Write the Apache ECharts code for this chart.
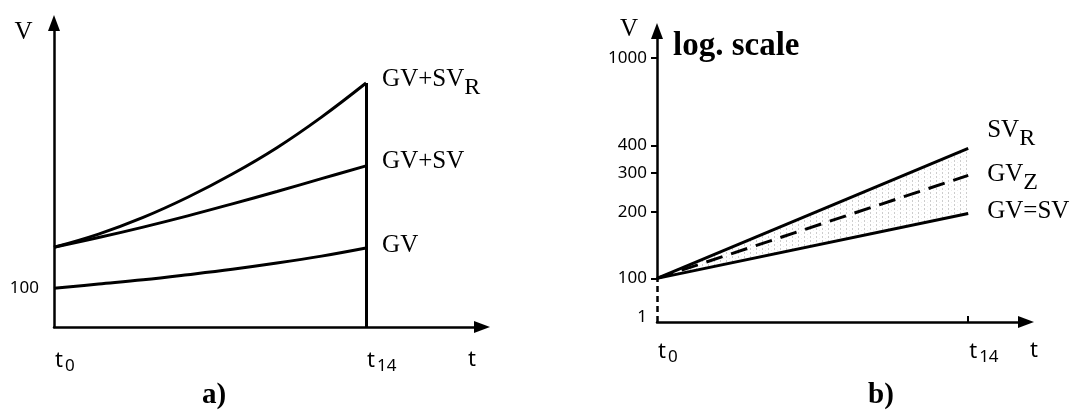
<!DOCTYPE html>
<html>
<head>
<meta charset="utf-8">
<script src="https://cdn.jsdelivr.net/npm/echarts@6/dist/echarts.min.js"></script>
<style>
  html, body { margin: 0; padding: 0; background: #fff; }
  #chart { width: 1085px; height: 410px; }
</style>
</head>
<body>
<div id="chart"></div>
<script>
// Panel a): values on a linear scale, sampled every two periods from t0 to t14
const periodsA = [0, 2, 4, 6, 8, 10, 12, 14];
const gv = [100, 111, 122, 135, 149, 165, 183, 204];
const gvPlusSv = [206, 231, 258, 287, 318, 350, 383, 416];
const gvPlusSvR = [206, 240, 283, 335, 395, 463, 542, 630];
const linearTicks = [100];

// Panel b): log scale, constant growth rates give straight lines
const periodsB = [0, 14];
const svR = [100, 388];
const gvZ = [100, 293];
const gvEqSv = [100, 197];
const logTicks = [100, 200, 300, 400, 1000];
const logBaseLabel = '1';

const timeTicks = [0, 14];

const SERIF = 'Liberation Serif';
const SANS = 'Noto Sans';
const INK = '#000';

const yMinB = 63.4;
const yMaxB = 1323;

const pairs = (xs, ys) => xs.map((x, i) => [x, ys[i]]);

// light vertical stipple for the band between SV_R and GV=SV
function makeStipple() {
  const c = document.createElement('canvas');
  c.width = 6; c.height = 4;
  const g = c.getContext('2d');
  g.fillStyle = 'rgba(130,130,130,0.40)';
  g.fillRect(0, 0, 1, 2);
  g.fillStyle = 'rgba(130,130,130,0.15)';
  g.fillRect(3, 2, 1, 1);
  return c;
}
const stipple = makeStipple();

const richCurve = {
  m: { fontFamily: SERIF, fontSize: 25, color: INK, verticalAlign: 'top', lineHeight: 26 },
  s: { fontFamily: SERIF, fontSize: 24, color: INK, verticalAlign: 'bottom', lineHeight: 33 }
};

const richTime = {
  t: { fontFamily: SANS, fontSize: 22, color: INK, verticalAlign: 'top', lineHeight: 22 },
  s: { fontFamily: SANS, fontSize: 17, color: INK, verticalAlign: 'bottom', lineHeight: 25, padding: [0, 0, 0, 2] }
};

const arrowLine = {
  show: true,
  symbol: ['none', 'triangle'],
  symbolSize: [12, 16],
  lineStyle: { color: INK, width: 2.5 }
};

function timeAxis(gridIndex, max, labelMargin, nameGap, namePad) {
  return {
    type: 'value', gridIndex, min: 0, max,
    axisLine: arrowLine,
    splitLine: { show: false },
    axisTick: gridIndex === 1
      ? { show: true, customValues: [14], inside: true, length: 6, lineStyle: { color: INK, width: 2 } }
      : { show: false },
    axisLabel: {
      customValues: timeTicks,
      formatter: v => '{t|t}{s|' + v + '}',
      rich: richTime,
      align: 'left',
      margin: labelMargin,
      padding: [0, 0, 0, 1]
    },
    name: 't',
    nameLocation: 'end',
    nameGap,
    nameTextStyle: {
      fontFamily: SANS, fontSize: 22, color: INK,
      align: 'center', verticalAlign: 'top', padding: [namePad, 0, 0, 0]
    }
  };
}

function curveLabel(text, sub, distance, dy) {
  return {
    show: true,
    formatter: sub ? '{m|' + text + '}{s|' + sub + '}' : '{m|' + text + '}',
    rich: richCurve,
    distance,
    offset: [0, dy]
  };
}

const blackLine = { color: INK, width: 3 };

const option = {
  backgroundColor: '#fff',
  animation: false,
  title: [
    { text: 'a)', left: 202, top: 381, padding: 0,
      textStyle: { fontFamily: SERIF, fontWeight: 'bold', fontSize: 29, color: INK } },
    { text: 'b)', left: 868, top: 381, padding: 0,
      textStyle: { fontFamily: SERIF, fontWeight: 'bold', fontSize: 29, color: INK } },
    { text: 'log. scale', left: 673, top: 30, padding: 0,
      textStyle: { fontFamily: SERIF, fontWeight: 'bold', fontSize: 33, color: INK } }
  ],
  grid: [
    { left: 54, top: 23, width: 428, height: 304 },
    { left: 657, top: 31, width: 369, height: 291 }
  ],
  xAxis: [
    timeAxis(0, 19.2, 23, -10, 22),
    timeAxis(1, 16.6, 19, 8, 18)
  ],
  yAxis: [
    {
      type: 'value', gridIndex: 0, min: 0, max: 785,
      axisLine: arrowLine,
      splitLine: { show: false },
      axisTick: { show: false },
      axisLabel: { customValues: linearTicks, margin: 15, fontFamily: SANS, fontSize: 17, color: INK },
      name: 'V', nameLocation: 'end', nameGap: -9,
      nameTextStyle: { fontFamily: SERIF, fontSize: 25, color: INK, align: 'center', verticalAlign: 'middle', padding: [0, 61, 0, 0] }
    },
    {
      type: 'log', logBase: 10, gridIndex: 1, min: yMinB, max: yMaxB,
      axisLine: { show: false },
      splitLine: { show: false },
      minorTick: { show: false },
      axisTick: { show: true, customValues: logTicks, length: 6, lineStyle: { color: INK, width: 2 } },
      axisLabel: {
        customValues: [yMinB].concat(logTicks),
        formatter: v => (v < logTicks[0] ? '{b|' + logBaseLabel + '}' : String(Math.round(v))),
        rich: { b: { fontFamily: SANS, fontSize: 17, color: INK, padding: [0, 0, 10, 0] } },
        margin: 10, fontFamily: SANS, fontSize: 17, color: INK
      },
      name: 'V', nameLocation: 'end', nameGap: 2,
      nameTextStyle: { fontFamily: SERIF, fontSize: 25, color: INK, align: 'center', verticalAlign: 'middle', padding: [0, 56, 0, 0] }
    }
  ],
  series: [
    {
      name: 'GV', type: 'line', xAxisIndex: 0, yAxisIndex: 0,
      data: pairs(periodsA, gv), smooth: 0.4, showSymbol: false, symbol: 'none',
      lineStyle: blackLine,
      endLabel: curveLabel('GV', null, 16, -2.5)
    },
    {
      name: 'GV+SV', type: 'line', xAxisIndex: 0, yAxisIndex: 0,
      data: pairs(periodsA, gvPlusSv), smooth: 0.4, showSymbol: false, symbol: 'none',
      lineStyle: blackLine,
      endLabel: curveLabel('GV+SV', null, 16, -3.5)
    },
    {
      name: 'GV+SVR', type: 'line', xAxisIndex: 0, yAxisIndex: 0,
      data: pairs(periodsA, gvPlusSvR), smooth: 0.4, showSymbol: false, symbol: 'none',
      lineStyle: blackLine,
      endLabel: curveLabel('GV+SV', 'R', 16, 0),
      markLine: {
        silent: true, symbol: ['none', 'none'], label: { show: false },
        lineStyle: { color: INK, width: 3, type: 'solid' },
        data: [[
          { coord: [periodsA[periodsA.length - 1], 0] },
          { coord: [periodsA[periodsA.length - 1], gvPlusSvR[gvPlusSvR.length - 1]] }
        ]]
      }
    },
    {
      name: 'band', type: 'custom', xAxisIndex: 1, yAxisIndex: 1, z: 1, silent: true,
      data: [[periodsB[0], svR[0]]],
      renderItem: (params, api) => {
        const top = periodsB.map((t, i) => api.coord([t, svR[i]]));
        const bottom = periodsB.map((t, i) => api.coord([t, gvEqSv[i]])).reverse();
        return {
          type: 'polygon',
          shape: { points: top.concat(bottom) },
          style: { fill: { image: stipple, repeat: 'repeat' } }
        };
      }
    },
    {
      name: 'SVR', type: 'line', xAxisIndex: 1, yAxisIndex: 1, z: 3,
      data: pairs(periodsB, svR), showSymbol: false, symbol: 'none',
      lineStyle: blackLine,
      endLabel: curveLabel('SV', 'R', 19, -14.5)
    },
    {
      name: 'GVZ', type: 'line', xAxisIndex: 1, yAxisIndex: 1, z: 3,
      data: pairs(periodsB, gvZ), showSymbol: false, symbol: 'none',
      lineStyle: { color: INK, width: 3, type: [17, 9] },
      endLabel: curveLabel('GV', 'Z', 19, 3)
    },
    {
      name: 'GV=SV', type: 'line', xAxisIndex: 1, yAxisIndex: 1, z: 3, clip: false,
      data: pairs(periodsB, gvEqSv), showSymbol: false, symbol: 'none',
      lineStyle: blackLine,
      endLabel: curveLabel('GV=SV', null, 19, -1),
      markLine: {
        silent: true, symbol: ['none', 'none'], label: { show: false },
        data: [
          [
            { coord: [0, yMinB], lineStyle: { color: INK, width: 2.5, type: [6, 4] } },
            { coord: [0, logTicks[0]] }
          ],
          [
            { coord: [0, logTicks[0]], symbol: 'none', lineStyle: { color: INK, width: 2.5, type: 'solid' } },
            { coord: [0, yMaxB], symbol: 'triangle', symbolSize: [12, 16] }
          ]
        ]
      }
    }
  ]
};

const chart = echarts.init(document.getElementById('chart'), null, { renderer: 'canvas' });
chart.setOption(option);
</script>
</body>
</html>
